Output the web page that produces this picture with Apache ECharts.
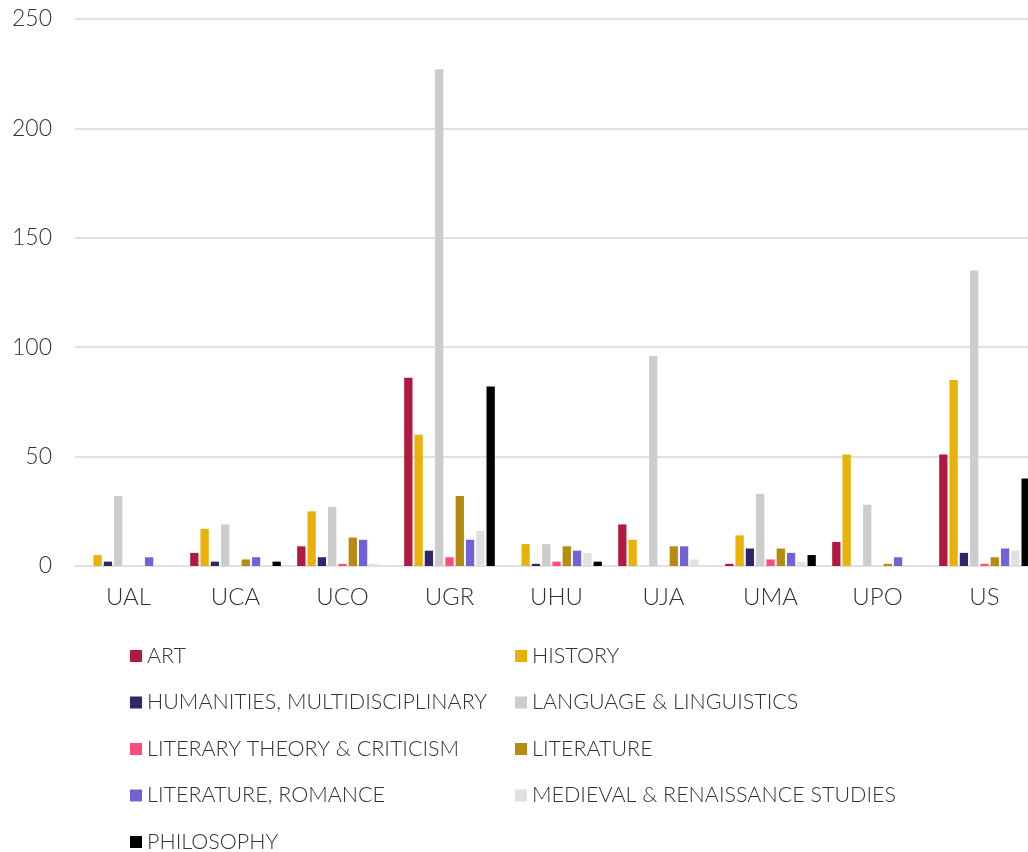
<!DOCTYPE html>
<html><head><meta charset="utf-8">
<script src="https://cdn.jsdelivr.net/npm/echarts@6/dist/echarts.min.js"></script>
<style>html,body{margin:0;padding:0;background:#fff}#c{width:1028px;height:852px}</style>
</head><body><div id="c"></div>
<script>
const categories = ['UAL','UCA','UCO','UGR','UHU','UJA','UMA','UPO','US'];
const seriesNames = ['ART','HISTORY','HUMANITIES, MULTIDISCIPLINARY','LANGUAGE & LINGUISTICS','LITERARY THEORY & CRITICISM','LITERATURE','LITERATURE, ROMANCE','MEDIEVAL & RENAISSANCE STUDIES','PHILOSOPHY'];
const art        = [0, 6, 9, 86, 0, 19, 1, 11, 51];
const history    = [5, 17, 25, 60, 10, 12, 14, 51, 85];
const humanities = [2, 2, 4, 7, 1, 0, 8, 0, 6];
const language   = [32, 19, 27, 227, 10, 96, 33, 28, 135];
const litTheory  = [0, 0, 1, 4, 2, 0, 3, 0, 1];
const literature = [0, 3, 13, 32, 9, 9, 8, 1, 4];
const romance    = [4, 4, 12, 12, 7, 9, 6, 4, 8];
const medieval   = [0, 0, 1, 16, 6, 3, 2, 0, 7];
const philosophy = [0, 2, 0, 82, 2, 0, 5, 0, 40];
const values = [art, history, humanities, language, litTheory, literature, romance, medieval, philosophy];
const colors = ['#B01A40','#E8B20B','#2F2769','#CCCCCC','#FF4D80','#B58B12','#7163D5','#E0E0E0','#000000'];
const yTicks = [0, 50, 100, 150, 200, 250];

const font = 'Lato';
const chart = echarts.init(document.getElementById('c'));
const legendText = {fontFamily: font, fontWeight: 300, fontSize: 21.5, color: '#333'};
chart.setOption({
  animation: false,
  color: colors,
  grid: {left: 75, width: 963, top: 19, bottom: 286, containLabel: false, outerBoundsMode: 'none'},
  xAxis: {
    type: 'category', data: categories,
    axisLine: {lineStyle: {color: '#e0e0e0', width: 2}},
    axisTick: {show: false},
    axisLabel: {fontFamily: font, fontWeight: 300, fontSize: 24, color: '#333', margin: 19}
  },
  yAxis: {
    type: 'value', min: yTicks[0], max: yTicks[yTicks.length-1], interval: 50,
    axisLine: {show: false}, axisTick: {show: false},
    splitLine: {lineStyle: {color: '#e0e0e0', width: 2}},
    axisLabel: {fontFamily: font, fontWeight: 300, fontSize: 23, color: '#333', margin: 23}
  },
  legend: seriesNames.map((n, i) => ({
    data: [n], left: (i % 2) ? 515 : 130, top: 645 + Math.floor(i / 2) * 46.5,
    padding: 0, itemWidth: 12, itemHeight: 12, icon: 'rect', textStyle: legendText
  })),
  series: seriesNames.map((n, i) => ({
    name: n, type: 'bar', data: values[i], barWidth: 8.3, barGap: '24%',
    itemStyle: {color: colors[i]}
  }))
});
</script></body></html>
